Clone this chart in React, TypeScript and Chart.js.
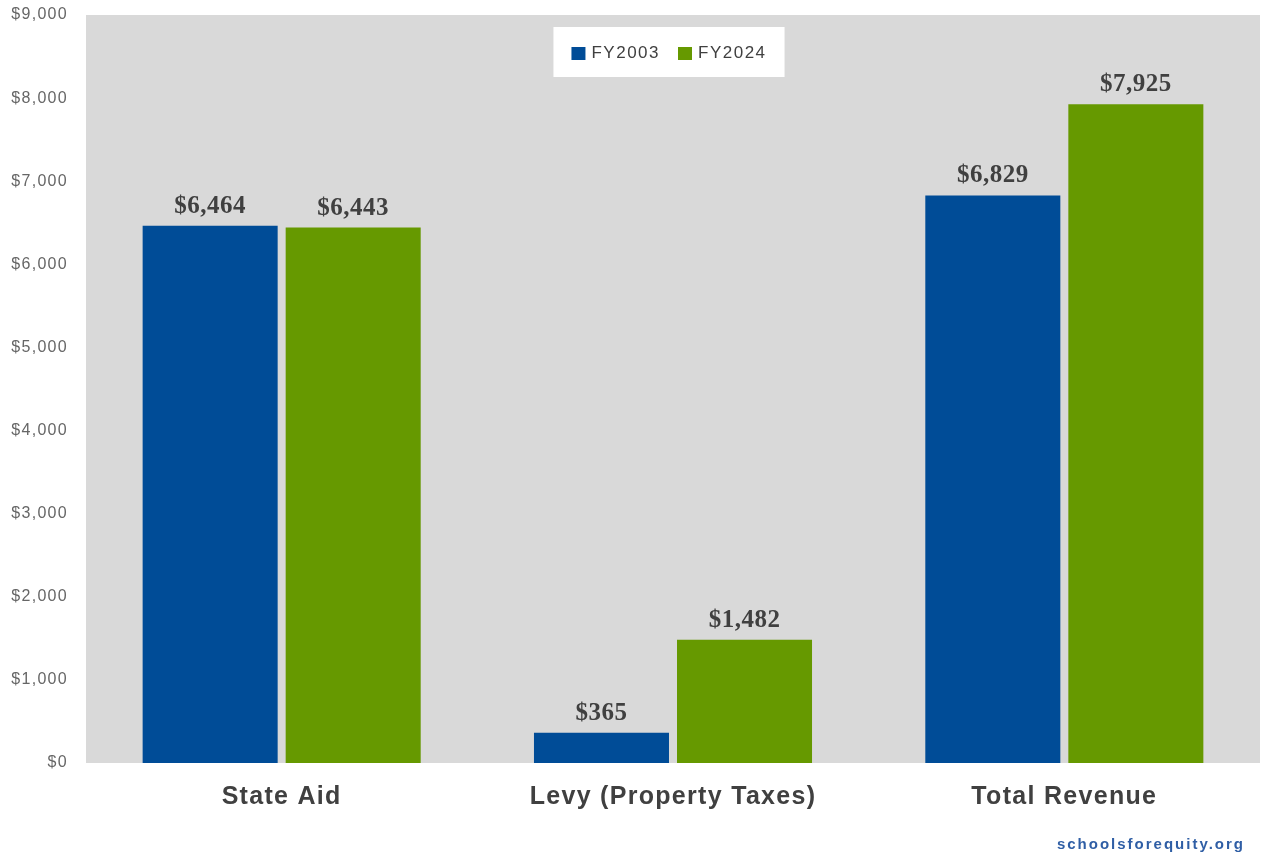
import React, { useEffect, useRef } from "react";
import { Chart, registerables } from "chart.js";

Chart.register(...registerables);

const categories = ["State Aid", "Levy (Property Taxes)", "Total Revenue"];
const seriesNames = ["FY2003", "FY2024"];
const fy2003 = [6464, 365, 6829];
const fy2024 = [6443, 1482, 7925];
const yTicks = [0, 1000, 2000, 3000, 4000, 5000, 6000, 7000, 8000, 9000];
const footerText = "schoolsforequity.org";

const BLUE = "#004c97";
const GREEN = "#669900";
const PLOT_BG = "#d9d9d9";

const fmt = (v: number) => "$" + v.toLocaleString("en-US");

const plotBg = {
  id: "plotBg",
  beforeDraw(chart: any) {
    const { ctx, chartArea } = chart;
    ctx.save();
    ctx.fillStyle = PLOT_BG;
    ctx.fillRect(chartArea.left, chartArea.top, chartArea.right - chartArea.left, chartArea.bottom - chartArea.top);
    ctx.restore();
    (ctx as any).letterSpacing = "1.3px";
  },
  beforeDatasetsDraw(chart: any) {
    (chart.ctx as any).letterSpacing = "0px";
  },
};

const valueLabels = {
  id: "valueLabels",
  afterDatasetsDraw(chart: any) {
    const { ctx } = chart;
    ctx.save();
    (ctx as any).letterSpacing = "0.5px";
    ctx.font = "bold 25px 'Liberation Serif', serif";
    ctx.fillStyle = "#404040";
    ctx.textAlign = "center";
    ctx.textBaseline = "alphabetic";
    chart.data.datasets.forEach((ds: any, di: number) => {
      const meta = chart.getDatasetMeta(di);
      meta.data.forEach((bar: any, i: number) => {
        ctx.fillText(fmt(ds.data[i]), bar.x, bar.y - 13);
      });
    });
    ctx.restore();
  },
};

const boxLegend = {
  id: "boxLegend",
  afterDraw(chart: any) {
    const { ctx, chartArea } = chart;
    ctx.save();
    (ctx as any).letterSpacing = "1.5px";
    ctx.font = "17px 'Liberation Sans', Arial, sans-serif";
    const items = chart.data.datasets.map((ds: any) => ({
      label: ds.label,
      color: ds.backgroundColor,
      w: ctx.measureText(ds.label).width,
    }));
    const padX = 18;
    const sq = 14;
    const gapSq = 6;
    const gapItem = 18;
    let total = padX * 2;
    items.forEach((it: any, i: number) => {
      total += sq + gapSq + it.w + (i < items.length - 1 ? gapItem : 0);
    });
    const cx = (chartArea.left + chartArea.right) / 2 - 4;
    const top = 27;
    const h = 50;
    const left = cx - total / 2;
    ctx.fillStyle = "#ffffff";
    ctx.fillRect(left, top, total, h);
    let x = left + padX;
    const cy = top + h / 2 + 1;
    items.forEach((it: any) => {
      ctx.fillStyle = it.color;
      ctx.fillRect(x, cy - 6, sq, 13);
      x += sq + gapSq;
      ctx.fillStyle = "#404040";
      ctx.textBaseline = "middle";
      ctx.textAlign = "left";
      ctx.fillText(it.label, x, cy);
      x += it.w + gapItem;
    });
    ctx.restore();

    ctx.save();
    (ctx as any).letterSpacing = "2px";
    ctx.font = "bold 15px 'Liberation Sans', Arial, sans-serif";
    ctx.fillStyle = "#2f5ea5";
    ctx.textAlign = "right";
    ctx.textBaseline = "middle";
    ctx.fillText(footerText, 1245, 845);
    ctx.restore();
  },
};

export default function App() {
  const canvasRef = useRef<HTMLCanvasElement | null>(null);

  useEffect(() => {
    document.body.style.margin = "0";
    const canvas = canvasRef.current;
    if (!canvas) return;
    const chart = new Chart(canvas, {
      type: "bar",
      data: {
        labels: categories,
        datasets: [
          { label: seriesNames[0], data: fy2003, backgroundColor: BLUE, categoryPercentage: 0.731, barPercentage: 0.944 },
          { label: seriesNames[1], data: fy2024, backgroundColor: GREEN, categoryPercentage: 0.731, barPercentage: 0.944 },
        ],
      },
      options: {
        animation: false,
        responsive: true,
        maintainAspectRatio: false,
        layout: { padding: { left: 0, top: 15, right: 7, bottom: 0 } },
        plugins: {
          legend: { display: false },
          tooltip: { enabled: false },
        },
        scales: {
          x: {
            grid: { display: false },
            border: { display: false },
            ticks: {
              color: "#404040",
              font: { family: "'Liberation Sans', Arial, sans-serif", size: 25, weight: "bold" },
              padding: 11,
              maxRotation: 0,
              autoSkip: false,
            },
            afterFit(scale: any) {
              scale.height = 91;
              scale.paddingLeft = 0;
              scale.paddingRight = 0;
            },
          },
          y: {
            min: yTicks[0],
            max: yTicks[yTicks.length - 1],
            grid: { display: false },
            border: { display: false },
            afterBuildTicks(scale: any) {
              scale.ticks = yTicks.map((v) => ({ value: v }));
            },
            ticks: {
              color: "#666666",
              font: { family: "'Liberation Sans', Arial, sans-serif", size: 16 },
              padding: 10,
              callback: (v: any) => fmt(Number(v)),
            },
            afterFit(scale: any) {
              scale.width = 86;
              scale.paddingTop = 0;
              scale.paddingBottom = 0;
            },
          },
        },
      },
      plugins: [plotBg, valueLabels, boxLegend],
    });
    return () => chart.destroy();
  }, []);

  return (
    <div style={{ position: "absolute", left: 0, top: 0, width: 1267, height: 854 }}>
      <canvas ref={canvasRef} />
    </div>
  );
}
